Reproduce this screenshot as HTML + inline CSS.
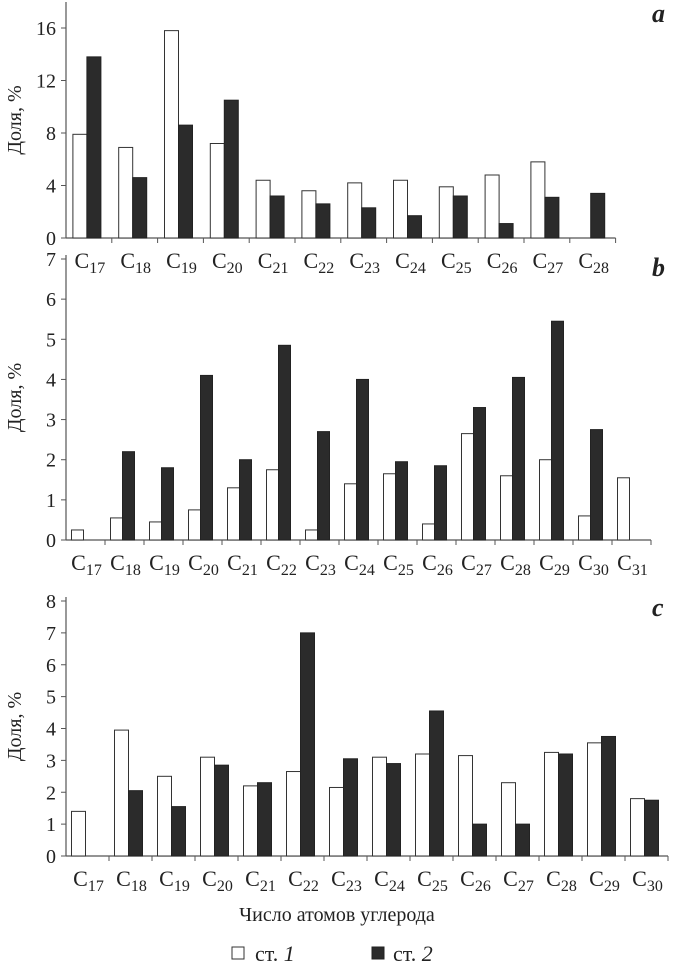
<!DOCTYPE html>
<html><head><meta charset="utf-8">
<style>
body{margin:0;background:#fff;width:674px;height:972px;overflow:hidden;font-family:"Liberation Serif",serif;}
svg text{font-family:"Liberation Serif",serif;fill:#222;}
</style></head>
<body>
<svg width="674" height="972">
<g id="root"></g>
</svg>
<script>
const catsA=[17,18,19,20,21,22,23,24,25,26,27,28];
const whiteA=[7.9,6.9,15.8,7.2,4.4,3.6,4.2,4.4,3.9,4.8,5.8,0];
const blackA=[13.8,4.6,8.6,10.5,3.2,2.6,2.3,1.7,3.2,1.1,3.1,3.4];
const ticksA=[0,4,8,12,16];
const catsB=[17,18,19,20,21,22,23,24,25,26,27,28,29,30,31];
const whiteB=[0.25,0.55,0.45,0.75,1.3,1.75,0.25,1.4,1.65,0.4,2.65,1.6,2.0,0.6,1.55];
const blackB=[0,2.2,1.8,4.1,2.0,4.85,2.7,4.0,1.95,1.85,3.3,4.05,5.45,2.75,0];
const ticksB=[0,1,2,3,4,5,6,7];
const catsC=[17,18,19,20,21,22,23,24,25,26,27,28,29,30];
const whiteC=[1.4,3.95,2.5,3.1,2.2,2.65,2.15,3.1,3.2,3.15,2.3,3.25,3.55,1.8];
const blackC=[0,2.05,1.55,2.85,2.3,7.0,3.05,2.9,4.55,1.0,1.0,3.2,3.75,1.75];
const ticksC=[0,1,2,3,4,5,6,7,8];
const NS="http://www.w3.org/2000/svg";
const root=document.getElementById('root');
function mk(tag,attrs,parent){const e=document.createElementNS(NS,tag);for(const k in attrs)e.setAttribute(k,attrs[k]);(parent||root).appendChild(e);return e;}
function panel(id,cats,wv,bv,ticks,x0,step,y0,yTop,maxV,axisTop,bw,letter,letterY){
  const g=mk('g',{});
  
  
  const y=v=>y0-(v/maxV)*(y0-yTop);
  const x1=x0+cats.length*step;
  mk('line',{x1:x0,y1:axisTop,x2:x0,y2:y0,stroke:'#555','stroke-width':1.2},g);
  mk('line',{x1:x0,y1:y0,x2:x1,y2:y0,stroke:'#555','stroke-width':1.2},g);
  ticks.forEach(t=>{
    mk('line',{x1:x0-5,y1:y(t),x2:x0,y2:y(t),stroke:'#555'},g);
    const tx=mk('text',{x:x0-10,y:y(t)+7,'text-anchor':'end','font-size':20},g);
    tx.textContent=t;
    
    
  });
  cats.forEach((c,i)=>{
    const cx=x0+step*(i+0.5);
    mk('line',{x1:x0+step*(i+1),y1:y0,x2:x0+step*(i+1),y2:y0+5,stroke:'#555'},g);
    if(wv[i]>0){const r=mk('rect',{x:cx-bw-2,y:y(wv[i]),width:bw,height:y0-y(wv[i]),fill:'#fff',stroke:'#333','stroke-width':1},g);
      
      }
    if(bv[i]>0){const r=mk('rect',{x:cx-2,y:y(bv[i]),width:bw,height:y0-y(bv[i]),fill:'#2b2b2b',stroke:'#222','stroke-width':1},g);
      
      }
    const t=mk('text',{x:cx+1,y:y0+30,'text-anchor':'middle','font-size':22},g);
    t.innerHTML='C<tspan font-size="16" dy="5">'+c+'</tspan>';
    
    
  });
  const yl=mk('text',{x:0,y:0,'font-size':20,'text-anchor':'middle',transform:`translate(21,${(y0+axisTop)/2}) rotate(-90)`},g);
  yl.textContent='Доля, %';
  
  
  const l=mk('text',{x:652,y:letterY,'font-size':26,'font-style':'italic','font-weight':'bold'},g);
  l.textContent=letter;
  
  
}
panel('a',catsA,whiteA,blackA,ticksA,66,45.8,238,28,16,2,14,'a',22);
panel('b',catsB,whiteB,blackB,ticksB,66,39,540,259,7,255,12,'b',276);
panel('c',catsC,whiteC,blackC,ticksC,66,43,856,601,8,597,14,'c',616);
const xt=mk('text',{x:337,y:921,'text-anchor':'middle','font-size':20});
xt.textContent='Число атомов углерода';


const lg=mk('g',{});


mk('rect',{x:232,y:947,width:12,height:12,fill:'#fff',stroke:'#333'},lg);
const l1=mk('text',{x:255,y:961,'font-size':22},lg);
l1.innerHTML='ст. <tspan font-style="italic">1</tspan>';


mk('rect',{x:372,y:947,width:12,height:12,fill:'#2b2b2b',stroke:'#222'},lg);
const l2=mk('text',{x:393,y:961,'font-size':22},lg);
l2.innerHTML='ст. <tspan font-style="italic">2</tspan>';


</script>
</body></html>
